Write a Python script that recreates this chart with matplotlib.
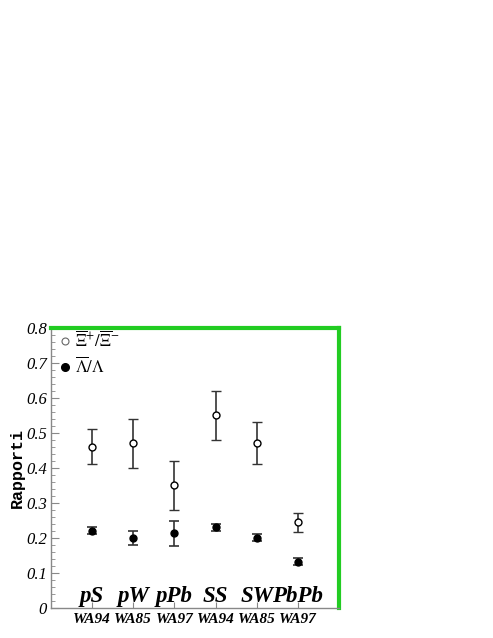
import matplotlib.pyplot as plt

plt.rcParams["mathtext.fontset"] = "stix"

# dati
systems = ["pS", "pW", "pPb", "SS", "SW", "PbPb"]
experiments = ["WA94", "WA85", "WA97", "WA94", "WA85", "WA97"]

xi_ratio = [0.46, 0.47, 0.35, 0.55, 0.47, 0.245]
xi_err_lo = [0.05, 0.07, 0.07, 0.07, 0.06, 0.028]
xi_err_hi = [0.05, 0.07, 0.07, 0.07, 0.06, 0.026]

lambda_ratio = [0.22, 0.20, 0.213, 0.23, 0.20, 0.132]
lambda_err_lo = [0.01, 0.02, 0.036, 0.01, 0.01, 0.01]
lambda_err_hi = [0.01, 0.02, 0.036, 0.01, 0.01, 0.01]

fig = plt.figure(figsize=(4.93, 6.38), dpi=100)
ax = fig.add_axes([51 / 493, 1 - 607.7 / 638, 288 / 493, 279.7 / 638])

x = list(range(1, len(systems) + 1))

ax.errorbar(x, xi_ratio, yerr=[xi_err_lo, xi_err_hi], fmt="o", mfc="white", mec="black",
            ms=5, mew=1.0, ecolor="#333333", elinewidth=1.2, capsize=3.5, capthick=1.2, zorder=3)
ax.errorbar(x, lambda_ratio, yerr=[lambda_err_lo, lambda_err_hi], fmt="o", mfc="black", mec="black",
            ms=5, ecolor="#333333", elinewidth=1.2, capsize=3.5, capthick=1.2, zorder=3)

ax.set_xlim(0, 7)
ax.set_ylim(0, 0.8)

# etichette dei sistemi dentro il grafico
for xi, s in zip(x, systems):
    ax.text(xi, 0.033, s, ha="center", va="center", fontsize=16.5, fontweight="bold",
            fontstyle="italic", family="Liberation Serif")

ax.set_xticks(x)
ax.set_xticklabels(experiments, fontsize=11, fontweight="bold", fontstyle="italic",
                   family="Liberation Serif")
ax.tick_params(axis="x", direction="in", length=4, color="#888888", pad=4)

ax.set_yticks([i / 10 for i in range(9)])
ax.set_yticklabels(["0"] + ["%.1f" % (i / 10) for i in range(1, 9)], fontsize=12,
                   fontstyle="italic", family="Liberation Serif")
ax.set_yticks([i / 50 for i in range(41)], minor=True)
ax.tick_params(axis="y", which="major", direction="in", length=6, color="#888888", pad=3)
ax.tick_params(axis="y", which="minor", direction="in", length=3, color="#888888")

ax.set_ylabel("Rapporti", fontsize=12, fontweight="bold", family="Liberation Mono", labelpad=1)

for side in ["left", "bottom"]:
    ax.spines[side].set_color("#888888")
    ax.spines[side].set_linewidth(1.0)
for side in ["top", "right"]:
    ax.spines[side].set_color("#22cc22")
    ax.spines[side].set_linewidth(3)

# legenda
ax.plot([0.35], [0.762], "o", mfc="white", mec="#666666", ms=5, mew=0.8)
ax.text(0.58, 0.762, r"$\overline{\Xi}^{+}/\overline{\Xi}^{-}$", va="center", fontsize=12)
ax.plot([0.35], [0.689], "o", mfc="black", mec="black", ms=5.5)
ax.text(0.58, 0.689, r"$\overline{\Lambda}/\Lambda$", va="center", fontsize=12)

fig.savefig("out.png", dpi=100)
